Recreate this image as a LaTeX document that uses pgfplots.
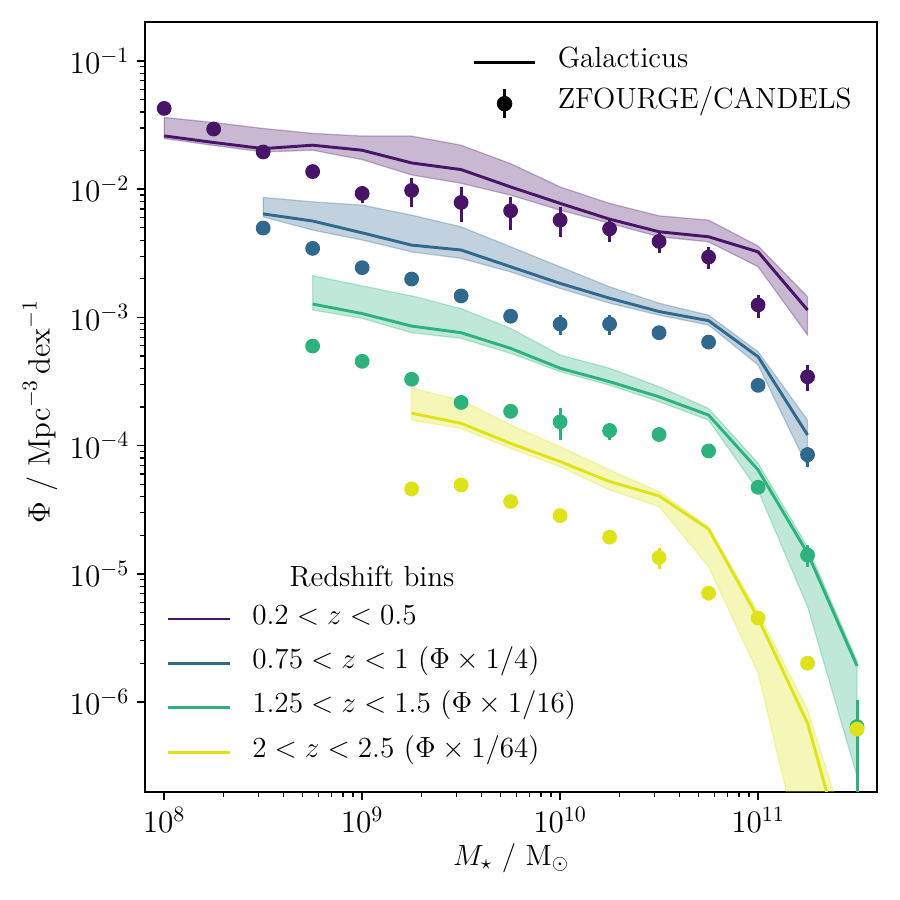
\RequirePackage{fix-cm}
\documentclass[border=0pt]{standalone}
\usepackage{pgfplots}
\usepackage{pgfplotstable}
\pgfplotsset{compat=1.18}
\usepgfplotslibrary{fillbetween}

% viridis samples, one per redshift bin
\definecolor{zA}{HTML}{481467}
\definecolor{zB}{HTML}{31688E}
\definecolor{zC}{HTML}{2DB27D}
\definecolor{zD}{HTML}{DDE318}

% Galacticus stellar mass functions: mass, Phi, upper and lower envelope
\pgfplotstableread{
x        phi        up         lo
1e8      0.0260     0.0362     0.0248
1.778e8  0.0231     0.0331     0.0219
3.162e8  0.0207     0.0297     0.0195
5.623e8  0.0220     0.0272     0.0201
1e9      0.0201     0.0259     0.0170
1.778e9  0.0160     0.0259     0.0129
3.162e9  0.0142     0.0220     0.0111
5.623e9  0.0104     0.0158     0.00897
1e10     0.00774    0.0104     0.00686
1.778e10 0.00583    0.00774    0.00541
3.162e10 0.00465    0.00619    0.00425
5.623e10 0.00425    0.00573    0.00388
1e11     0.00324    0.00360    0.00248
1.778e11 0.00114    0.00145    0.000728
}\modelA
\pgfplotstableread{
x        phi        up         lo
3.162e8  0.00641    0.00861    0.00608
5.623e8  0.00564    0.00796    0.00479
1e9      0.00456    0.00750    0.00401
1.778e9  0.00366    0.00627    0.00324
3.162e9  0.00335    0.00508    0.00288
5.623e9  0.00248    0.00355    0.00226
1e10     0.00184    0.00248    0.00168
1.778e10 0.00141    0.00173    0.00129
3.162e10 0.00111    0.00129    0.00104
5.623e10 0.000942   0.00104    0.000871
1e11     0.000493   0.000540   0.000425
1.778e11 0.000121   0.000158   6.85e-5
}\modelB
\pgfplotstableread{
x        phi        up         lo
5.623e8  0.00127    0.00211    0.00114
1e9      0.00107    0.00176    0.000982
1.778e9  0.000855   0.00147    0.000759
3.162e9  0.000759   0.00117    0.000685
5.623e9  0.000573   0.000820   0.000524
1e10     0.000401   0.000508   0.000377
1.778e10 0.000315   0.000401   0.000296
3.162e10 0.000240   0.000288   0.000220
5.623e10 0.000173   0.000195   0.000158
1e11     6.46e-5    7.28e-5    4.47e-5
1.778e11 1.45e-5    1.62e-5    5.55e-6
3.162e11 1.91e-6    2.09e-6    2.63e-7
}\modelC
\pgfplotstableread{
x        phi        up         lo
1.778e9  0.000179   0.000280   0.000158
3.162e9  0.000149   0.000226   0.000136
5.623e9  0.000104   0.000145   9.53e-5
1e10     7.50e-5    9.79e-5    6.85e-5
1.778e10 5.24e-5    6.46e-5    4.51e-5
3.162e10 4.05e-5    4.38e-5    3.34e-5
5.623e10 2.23e-5    2.33e-5    1.14e-5
1e11     4.51e-6    5.01e-6    1.68e-6
1.778e11 6.84e-7    8.71e-7    4.07e-8
3.162e11 2.79e-8    5.25e-8    3.2e-9
}\modelD

% ZFOURGE/CANDELS measurements: mass, Phi, error up, error down
\pgfplotstableread{
x        phi        ep         em
1e8      0.0426     0          0
1.778e8  0.0294     0          0
3.162e8  0.0195     0          0
5.623e8  0.0137     0          0
1e9      0.00925    0.00137    0.00142
1.778e9  0.00977    0.00248    0.00258
3.162e9  0.00787    0.00255    0.00237
5.623e9  0.00678    0.00193    0.00199
1e10     0.00573    0.00155    0.00148
1.778e10 0.00490    0.00102    0.00105
3.162e10 0.00391    0.00063    0.00075
5.623e10 0.00295    0.00056    0.00057
1e11     0.00125    0.00024    0.000268
1.778e11 0.000344   0.000081   0.000076
}\obsA
\pgfplotstableread{
x        phi        ep         em
3.162e8  0.00497    0          0
5.623e8  0.00345    0          0
1e9      0.00244    0          0
1.778e9  0.00199    0          0
3.162e9  0.00147    0          0
5.623e9  0.00102    0.00005    0.00005
1e10     0.000887   0.00016    0.000163
1.778e10 0.000887   0.00016    0.000163
3.162e10 0.000759   0.00004    0.00004
5.623e10 0.000641   0          0
1e11     0.000295   0          0
1.778e11 8.49e-5    1.3e-5     1.65e-5
}\obsB
\pgfplotstableread{
x        phi        ep         em
5.623e8  0.000597   0          0
1e9      0.000454   0          0
1.778e9  0.000329   0          0
3.162e9  0.000217   0          0
5.623e9  0.000185   0          0
1e10     0.000153   4.2e-5     4.2e-5
1.778e10 0.000131   1.8e-5     2.0e-5
3.162e10 0.000122   0          0
5.623e10 9.08e-5    0          0
1e11     4.73e-5    4e-6       4e-6
1.778e11 1.40e-5    2.8e-6     2.6e-6
3.162e11 6.44e-7    4.0e-7     6.43e-7
}\obsC
\pgfplotstableread{
x        phi        ep         em
1.778e9  4.59e-5    0          0
3.162e9  4.93e-5    0          0
5.623e9  3.66e-5    0          0
1e10     2.84e-5    0          0
1.778e10 1.93e-5    0          0
3.162e10 1.34e-5    2.45e-6    2.54e-6
5.623e10 7.06e-6    6e-7       6e-7
1e11     4.51e-6    4e-7       4e-7
1.778e11 2.01e-6    0          0
3.162e11 6.15e-7    6e-8       6e-8
}\obsD

\pgfplotsset{
  band/.style={fill=#1, draw=#1, fill opacity=0.3, draw opacity=0.3, line width=0.6pt, forget plot},
  model/.style={#1, line width=1.4pt},
  obs/.style={#1, only marks, mark=*, mark size=3.3pt, line width=0.5pt, forget plot,
    error bars/.cd, y dir=both, y explicit, error mark=none,
    error bar style={#1, line width=1.4pt}},
}

\begin{document}
\begin{tikzpicture}[font=\fontsize{14}{17}\selectfont]
\begin{axis}[
  scale only axis, width=351.5pt, height=369.3pt,
  xmode=log, ymode=log,
  xmin=8e7, xmax=4e11, ymin=2e-7, ymax=0.2,
  xtick={1e8,1e9,1e10,1e11},
  ytick={1e-6,1e-5,1e-4,1e-3,1e-2,1e-1},
  xtick pos=left, ytick pos=left,
  tick align=outside,
  tick label style={font=\fontsize{15}{18}\selectfont},
  major tick length=4pt, minor tick length=2.4pt,
  major tick style={line width=0.8pt, black},
  minor tick style={line width=0.6pt, black},
  axis line style={line width=0.8pt},
  xlabel={$M_\star\ /\ \mathrm{M}_\odot$},
  ylabel={$\Phi\ /\ \mathrm{Mpc}^{-3}\,\mathrm{dex}^{-1}$},
  xlabel style={at={(axis description cs:0.5,-0.0862)}, anchor=center},
  ylabel style={at={(axis description cs:-0.1434,0.494)}, anchor=center,
    font=\fontsize{14.8}{18}\selectfont},
  legend image code/.code={\draw[#1] (0pt,0pt) -- (29.5pt,0pt);},
  legend cell align=left,
  legend style={draw=none, fill=none, inner xsep=0pt, inner ysep=0pt,
    at={(rel axis cs:0.0293,0.2385)}, anchor=north west,
    row sep=11.3pt, column sep=10.1pt,
    nodes={inner sep=0pt, text height=0.75em, text depth=0.25em}},
]
% 0.2 < z < 0.5
\addplot[name path=Aup, draw=none, forget plot] table[x=x,y=up]{\modelA};
\addplot[name path=Alo, draw=none, forget plot] table[x=x,y=lo]{\modelA};
\addplot[band=zA] fill between[of=Aup and Alo];
\addplot[model=zA] table[x=x,y=phi]{\modelA};
\addlegendentry{$0.2 < z < 0.5$}
\addplot[obs=zA] table[x=x,y=phi,y error plus=ep,y error minus=em]{\obsA};
% 0.75 < z < 1
\addplot[name path=Bup, draw=none, forget plot] table[x=x,y=up]{\modelB};
\addplot[name path=Blo, draw=none, forget plot] table[x=x,y=lo]{\modelB};
\addplot[band=zB] fill between[of=Bup and Blo];
\addplot[model=zB] table[x=x,y=phi]{\modelB};
\addlegendentry{$0.75 < z < 1$ ($\Phi\times1/4$)}
\addplot[obs=zB] table[x=x,y=phi,y error plus=ep,y error minus=em]{\obsB};
% 1.25 < z < 1.5
\addplot[name path=Cup, draw=none, forget plot] table[x=x,y=up]{\modelC};
\addplot[name path=Clo, draw=none, forget plot] table[x=x,y=lo]{\modelC};
\addplot[band=zC] fill between[of=Cup and Clo];
\addplot[model=zC] table[x=x,y=phi]{\modelC};
\addlegendentry{$1.25 < z < 1.5$ ($\Phi\times1/16$)}
\addplot[obs=zC] table[x=x,y=phi,y error plus=ep,y error minus=em]{\obsC};
% 2 < z < 2.5
\addplot[name path=Dup, draw=none, forget plot] table[x=x,y=up]{\modelD};
\addplot[name path=Dlo, draw=none, forget plot] table[x=x,y=lo]{\modelD};
\addplot[band=zD] fill between[of=Dup and Dlo];
\addplot[model=zD] table[x=x,y=phi]{\modelD};
\addlegendentry{$2 < z < 2.5$ ($\Phi\times1/64$)}
\addplot[obs=zD] table[x=x,y=phi,y error plus=ep,y error minus=em]{\obsD};

\node[anchor=base] at (rel axis cs:0.310,0.2664) {Redshift bins};
\end{axis}

% key for the line / point styles
\begin{axis}[
  scale only axis, width=351.5pt, height=369.3pt,
  hide axis, xmin=0, xmax=1, ymin=0, ymax=1,
  legend image code/.code={\draw[#1] (0pt,0pt) -- (29.5pt,0pt);},
  legend cell align=left,
  legend style={draw=none, fill=none, inner xsep=0pt, inner ysep=0pt,
    at={(rel axis cs:0.4465,0.9622)}, anchor=north west,
    row sep=7.4pt, column sep=10.1pt,
    nodes={inner sep=0pt, text height=0.75em, text depth=0.25em}},
]
\addlegendimage{black, line width=1.4pt}
\addlegendentry{Galacticus}
\addlegendimage{legend image code/.code={
  \draw[black, line width=1.4pt] (14.75pt,-6.8pt) -- (14.75pt,6.8pt);
  \fill[black] (14.75pt,0pt) circle[radius=3.5pt];}}
\addlegendentry{ZFOURGE/CANDELS}
\end{axis}

\pgfresetboundingbox
\path[use as bounding box] (-69.6pt,-52pt) rectangle (362.4pt,380pt);
\end{tikzpicture}
\end{document}
